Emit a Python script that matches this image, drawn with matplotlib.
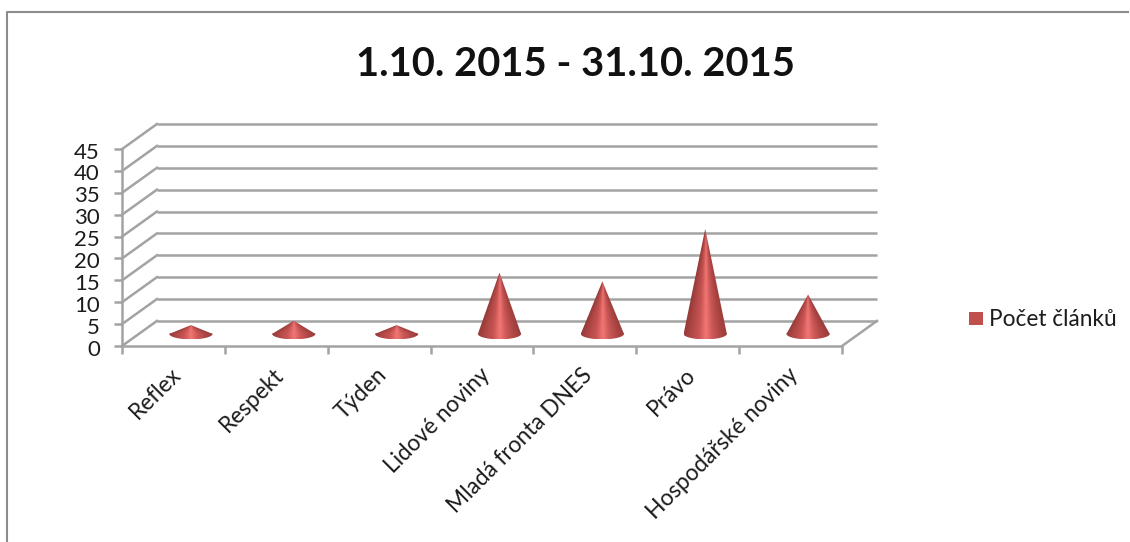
import numpy as np
import matplotlib
matplotlib.use("Agg")
import matplotlib.pyplot as plt
from matplotlib.colors import LinearSegmentedColormap
from matplotlib.lines import Line2D
from matplotlib.patches import PathPatch, Rectangle
from matplotlib.path import Path
from matplotlib.transforms import ScaledTranslation

categories = ["Reflex", "Respekt", "Týden", "Lidové noviny", "Mladá fronta DNES", "Právo", "Hospodářské noviny"]
values = [2, 3, 2, 14, 12, 24, 9]
y_ticks = [0, 5, 10, 15, 20, 25, 30, 35, 40, 45]
title = "1.10. 2015 - 31.10. 2015"
series_name = "Počet článků"

W, H = 1130, 542
plt.rcParams["font.family"] = ["Lato", "DejaVu Sans"]
GRID = "#a3a3a3"
TEXT = "#1c1c1c"
DX, DY = 0.34, 5.74      # depth of the 3D box in data units
CX, CY = DX / 2, DY / 2 - 0.1  # floor position of the cones
RX, RY = 0.21, 1.25      # base ellipse radii

fig = plt.figure(figsize=(W / 100, H / 100), dpi=100, facecolor="white")
# front plane: x 122..842 px for 0..7, y 346..150 px for 0..45
ax = fig.add_axes([122 / W, 1 - 346 / H, (877 - 122) / W, (346 - 124) / H])
ax.set_xlim(0, 7 + DX)
ax.set_ylim(0, 45 + DY)
ax.patch.set_alpha(0)

for s in ("top", "right"):
    ax.spines[s].set_visible(False)
for s in ("left", "bottom"):
    ax.spines[s].set_color(GRID)
    ax.spines[s].set_linewidth(1.8)
ax.spines["left"].set_bounds(0, 45)
ax.spines["bottom"].set_bounds(0, 7)

for v in y_ticks:
    ax.plot([DX, 7 + DX], [v + DY, v + DY], color=GRID, lw=1.8, zorder=1,
            solid_capstyle="butt", clip_on=False)
    ax.plot([0, DX], [v, v + DY], color=GRID, lw=1.8, zorder=1, clip_on=False)
ax.plot([7, 7 + DX], [0, DY], color=GRID, lw=1.8, zorder=1, clip_on=False)

ax.set_yticks(y_ticks)
ax.tick_params(axis="y", length=6, width=1.8, color=GRID, labelsize=16, labelcolor=TEXT, pad=10)
for lab in ax.get_yticklabels():
    lab.set_transform(lab.get_transform() + ScaledTranslation(0, -1.5 / 100, fig.dpi_scale_trans))
ax.set_xticks(np.arange(len(categories)) + 0.5)
ax.set_xticklabels(categories, rotation=45, ha="right", va="top", rotation_mode="anchor",
                   fontsize=16.3, color=TEXT)
ax.tick_params(axis="x", which="major", length=0, pad=13)
for lab in ax.get_xticklabels():
    lab.set_transform(lab.get_transform() + ScaledTranslation(-3 / 100, 0, fig.dpi_scale_trans))
ax.set_xticks(np.arange(len(categories) + 1), minor=True)
ax.tick_params(axis="x", which="minor", length=6, width=1.8, color=GRID)

cmap = LinearSegmentedColormap.from_list(
    "cone", ["#963b39", "#b04846", "#c65452", "#f27674", "#c85654", "#ac4644", "#983c3a"])

for i, v in enumerate(values):
    cx = i + 0.5 + CX
    t = np.linspace(0, np.pi, 40)
    xs = cx + RX * np.cos(t)
    ys = CY - RY * np.sin(t)
    verts = [(cx, CY + v)] + list(zip(xs, ys)) + [(cx, CY + v)]
    codes = [Path.MOVETO] + [Path.LINETO] * (len(verts) - 2) + [Path.CLOSEPOLY]
    patch = PathPatch(Path(verts, codes), facecolor="none", edgecolor="none", transform=ax.transData)
    ax.add_patch(patch)
    # shade follows the cone's surface: position across its width at each height
    gx = np.linspace(-1, 1, 128)
    gy = np.linspace(0, 1, 200)
    X, Y = np.meshgrid(gx, gy)
    shade = np.clip(0.5 + 0.5 * X / np.maximum(Y, 0.01), 0, 1)
    im = ax.imshow(shade, cmap=cmap, vmin=0, vmax=1, aspect="auto", interpolation="bilinear", zorder=3,
                   extent=(cx - RX, cx + RX, CY, CY + v))
    im.set_clip_path(patch)
    # lower half of the base carries the same shading, without the taper
    im2 = ax.imshow(np.linspace(0, 1, 128).reshape(1, -1), cmap=cmap, vmin=0, vmax=1, aspect="auto",
                    interpolation="bilinear", zorder=3, extent=(cx - RX, cx + RX, CY - RY, CY))
    im2.set_clip_path(patch)

ax.set_xlim(0, 7 + DX)
ax.set_ylim(0, 45 + DY)

fig.text(575 / W, 1 - 64 / H, title, ha="center", va="center", fontsize=28.7,
         fontweight="bold", color="#111111")

fig.add_artist(Rectangle((969 / W, 1 - 325 / H), 14 / W, 13 / H, transform=fig.transFigure,
                         facecolor="#c0504d", edgecolor="none"))
fig.text(989 / W, 1 - 320 / H, series_name, ha="left", va="center", fontsize=16.3, color=TEXT)

FRAME = "#8c8c8c"
fig.add_artist(Line2D([7 / W, 7 / W, 1128 / W], [0, 1 - 12 / H, 1 - 12 / H],
                      transform=fig.transFigure, color=FRAME, lw=1.5))

fig.savefig("out.png", dpi=100, facecolor="white")
